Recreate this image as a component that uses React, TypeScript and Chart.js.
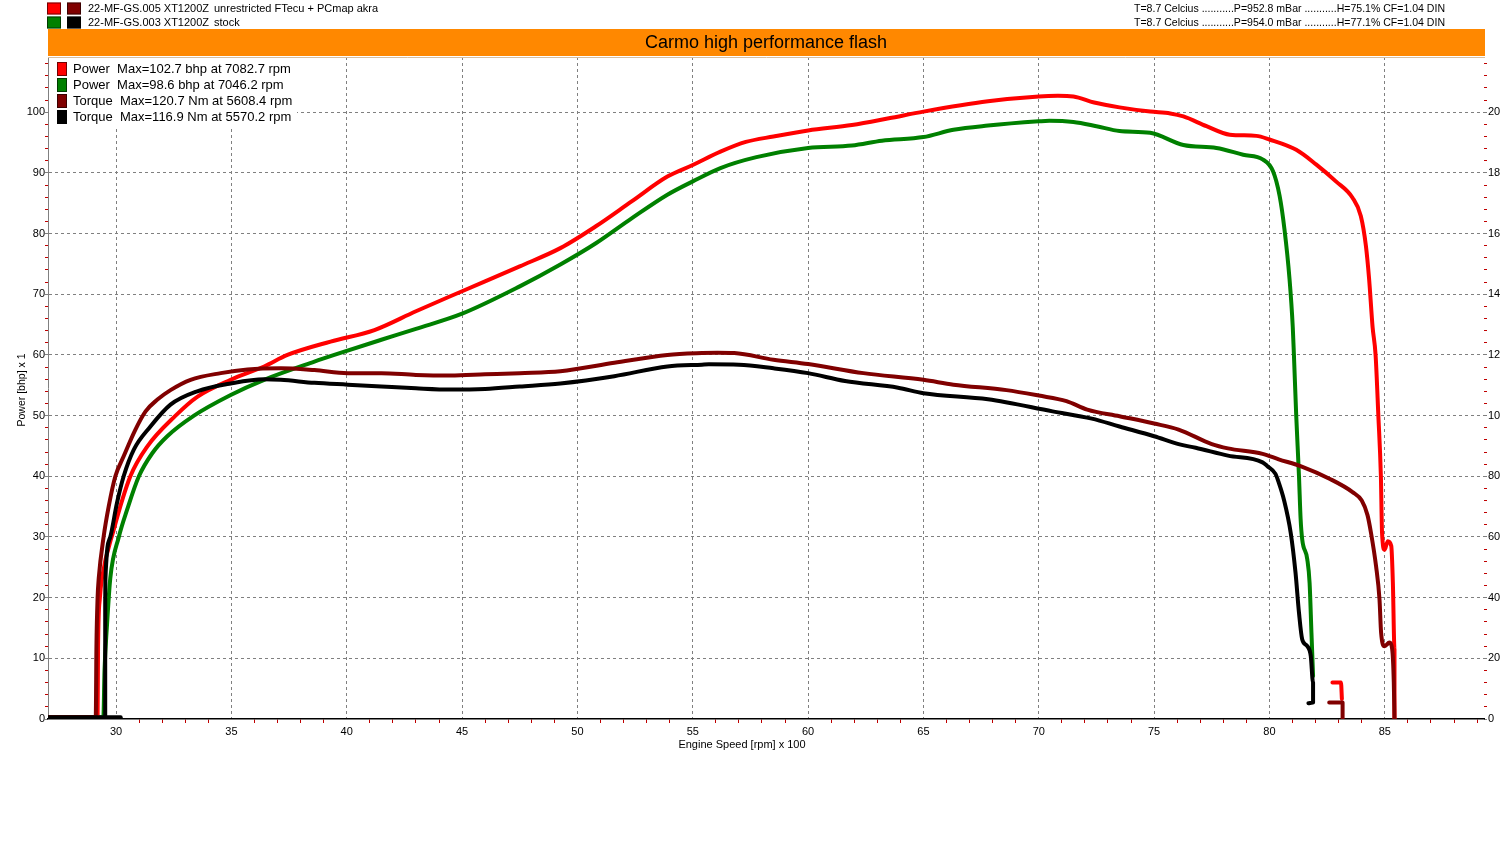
import React, { useEffect, useRef } from 'react';
import { Chart, registerables } from 'chart.js';

Chart.register(...registerables);

// engine speed is rpm / 100, power in bhp on the left axis, torque in Nm on the right axis
const runNames = ['22-MF-GS.005 XT1200Z', '22-MF-GS.003 XT1200Z'];
const runNotes = ['unrestricted FTecu + PCmap akra', 'stock'];
const runConditions = [
  'T=8.7 Celcius ...........P=952.8 mBar ...........H=75.1% CF=1.04 DIN',
  'T=8.7 Celcius ...........P=954.0 mBar ...........H=77.1% CF=1.04 DIN',
];
const chartTitle = 'Carmo high performance flash';
const legendLabels = [
  'Power  Max=102.7 bhp at 7082.7 rpm',
  'Power  Max=98.6 bhp at 7046.2 rpm',
  'Torque  Max=120.7 Nm at 5608.4 rpm',
  'Torque  Max=116.9 Nm at 5570.2 rpm',
];
const xTitle = 'Engine Speed [rpm] x 100';
const yTitle = 'Power [bhp] x 1';

// unrestricted run - power
const unrPowerRpm = [27.05, 29.2, 29.22, 29.3, 29.39, 29.9, 30.62, 31.35, 32.58, 33.52, 34.97, 36.42, 37.43, 39.3, 41.2, 43, 45, 47.5, 49.26, 50.8, 52.35, 53.9, 55, 56.2, 57.3, 58.5, 60, 61.9, 63.5, 65, 67.8, 70, 70.83, 71.5, 72.4, 73.5, 74.83, 75.7, 76.27, 77.27, 78.28, 79.43, 80, 81.16, 82.02, 82.88, 83.6, 83.96, 84.18, 84.32, 84.47, 84.6, 84.72, 84.83, 84.88, 84.99, 85.13, 85.28, 85.35, 85.42, 85.42];
const unrPower = [0.3, 0.3, 12, 20, 23.2, 31.2, 40, 44.9, 50, 53.1, 55.9, 58.1, 60, 62.2, 64.1, 67.2, 70.5, 74.6, 77.6, 81.2, 85.3, 89.4, 91.3, 93.5, 95.1, 96, 97, 97.9, 99, 100.1, 101.8, 102.6, 102.7, 102.6, 101.6, 100.8, 100.1, 99.8, 99.3, 97.7, 96.3, 96.1, 95.5, 93.8, 91.4, 88.6, 85.9, 82.9, 78, 72.5, 64.6, 60, 50, 40, 30.7, 27.9, 29.3, 28.5, 22.4, 11.5, 0];
// detached trace left after the run-down
const unrPowerTailRpm = [82.73, 83.1, 83.14];
const unrPowerTail = [6, 6, 3.3];

// stock run - power
const stkPowerRpm = [27.05, 29.45, 29.5, 29.6, 29.75, 30.12, 30.48, 30.99, 31.57, 32.22, 33.38, 34.97, 36.42, 38.6, 39.46, 41.5, 43, 45, 47.5, 49.26, 50.8, 52.35, 53.9, 55, 56.2, 57.76, 60, 61.9, 63.2, 65, 66.3, 67.8, 70, 70.46, 71.5, 72.5, 73.5, 74.83, 76.27, 77.7, 78.86, 79.72, 80.15, 80.44, 80.65, 80.87, 81.01, 81.06, 81.16, 81.28, 81.35, 81.42, 81.64, 81.74, 81.82, 81.89];
const stkPower = [0.3, 0.3, 8, 15, 23.2, 30, 34.5, 40, 43.8, 46.6, 50, 53.4, 55.9, 58.9, 60, 62.5, 64.3, 66.8, 71.3, 74.9, 78.4, 82.5, 86.4, 88.6, 90.8, 92.6, 94.1, 94.5, 95.3, 95.9, 97.1, 97.8, 98.5, 98.6, 98.4, 97.7, 96.9, 96.6, 94.6, 94.1, 93, 92.2, 90.3, 86.2, 80.7, 72.5, 64.6, 60, 50, 40, 33, 29.6, 26.3, 22.4, 14.2, 7.1];

// unrestricted run - torque
const unrTorqueRpm = [27.05, 29.12, 29.15, 29.2, 29.25, 29.46, 29.68, 29.97, 30.33, 30.84, 31.28, 31.78, 32.36, 33.23, 34.54, 35.7, 37.14, 38.6, 40.04, 41.5, 43, 44.5, 46, 47.5, 49.26, 51.6, 53.9, 55.4, 56.08, 56.8, 58.5, 60, 62.4, 65, 66.3, 68.6, 70, 71.2, 72.1, 73.5, 75, 76.06, 77.5, 78.2, 79.7, 80.4, 81.4, 82.6, 83.6, 84.0, 84.25, 84.4, 84.62, 84.77, 84.84, 84.99, 85.2, 85.32, 85.39, 85.42];
const unrTorque = [0.6, 0.6, 24, 40, 46.4, 60, 70, 80, 86.6, 95.4, 101.4, 105.2, 108.4, 111.8, 114, 115.2, 115.6, 115, 114, 114, 113.4, 113.2, 113.6, 114, 114.6, 117.4, 120, 120.6, 120.7, 120.6, 118.4, 117, 114, 111.8, 110.2, 108.4, 106.6, 104.8, 102, 99.8, 97.4, 95.4, 90.6, 89.2, 87.4, 85.6, 83.2, 79.2, 74.8, 72, 67.2, 61.4, 50.4, 39.4, 28.4, 24, 25.2, 23, 12, 0];
const unrTorqueTailRpm = [82.59, 83.17, 83.17];
const unrTorqueTail = [5.4, 5.4, 0];

// stock run - torque
const stkTorqueRpm = [27.05, 29.53, 29.53, 29.53, 29.54, 29.75, 30.04, 30.33, 30.77, 31.49, 32.36, 33.52, 34.97, 36.42, 37.14, 38.6, 40.04, 41.5, 43, 44.5, 46, 47.5, 49.26, 51.6, 53.9, 55.4, 55.7, 57, 58.5, 60, 61.6, 63.9, 65, 67.8, 70.6, 72.3, 73.5, 75, 76.06, 76.8, 78.2, 79.7, 79.9, 80.26, 80.4, 80.63, 80.92, 81.13, 81.28, 81.42, 81.64, 81.79, 81.89, 81.89, 81.69];
const stkTorque = [0.6, 0.6, 24, 40, 46.4, 60, 71.2, 80, 88.8, 96.4, 103.6, 108, 110.6, 112, 111.8, 110.8, 110.2, 109.6, 109, 108.6, 108.8, 109.6, 110.6, 113, 116.2, 116.8, 116.9, 116.8, 115.6, 114, 111.4, 109.2, 107.4, 105.4, 101.4, 99, 96.4, 93.2, 90.6, 89.4, 86.8, 84.6, 83.4, 80.8, 78, 72.2, 61.4, 48.2, 35, 26.2, 24, 20.8, 12, 5.4, 5.2];
const stkTorqueTailRpm = [29.53, 30.2];
const stkTorqueTail = [0.6, 0.6];

// tick positions (x every 100 rpm, power every 2 bhp, torque every 4 Nm)
const xTickValues = Array.from({ length: 60 }, (_, i) => 30 + i);
const powerTickValues = Array.from({ length: 55 }, (_, i) => i * 2);
const torqueTickValues = Array.from({ length: 55 }, (_, i) => i * 4);

const RED = '#ff0000';
const DARK_RED = '#800000';
const GREEN = '#008000';
const BLACK = '#000000';
const TICK_RED = '#c00000';
const GRID = '#808080';
const FONT = 'Liberation Sans, Arial, sans-serif';

const powerColors = [RED, GREEN];
const torqueColors = [DARK_RED, BLACK];
const legendColors = [RED, GREEN, DARK_RED, BLACK];

const toPoints = (xs: number[], ys: number[]) => xs.map((x, i) => ({ x, y: ys[i] }));

const swatch = (ctx: CanvasRenderingContext2D, x: number, y: number, w: number, h: number, color: string) => {
  ctx.fillStyle = color;
  ctx.fillRect(x, y, w, h);
  ctx.strokeStyle = 'rgba(0,0,0,0.55)';
  ctx.lineWidth = 1;
  ctx.strokeRect(x + 0.5, y + 0.5, w - 1, h - 1);
};

const dynoDecor = {
  id: 'dynoDecor',
  beforeDraw(chart: any) {
    const { ctx, width, height } = chart;
    ctx.save();
    ctx.fillStyle = '#ffffff';
    ctx.fillRect(0, 0, width, height);
    ctx.restore();
  },
  afterDraw(chart: any) {
    const ctx: CanvasRenderingContext2D = chart.ctx;
    const { left, right, top } = chart.chartArea;
    ctx.save();
    ctx.textBaseline = 'middle';

    // run header rows
    ctx.font = `11px ${FONT}`;
    runNames.forEach((name, i) => {
      const y = 8.5 + i * 14;
      swatch(ctx, 47, y - 6, 14, 12, powerColors[i]);
      swatch(ctx, 67, y - 6, 14, 12, torqueColors[i]);
      ctx.fillStyle = '#000';
      ctx.textAlign = 'left';
      ctx.fillText(name, 88, y);
      ctx.fillText(runNotes[i], 214, y);
      const txt = runConditions[i];
      const w = ctx.measureText(txt).width;
      ctx.save();
      ctx.translate(1134, y);
      ctx.scale(311 / w, 1);
      ctx.fillText(txt, 0, 0);
      ctx.restore();
    });

    // orange title band
    ctx.fillStyle = '#ff8800';
    ctx.fillRect(left, 29, right - left + 1, 27);
    ctx.strokeStyle = '#d8bfa0';
    ctx.lineWidth = 1;
    ctx.beginPath();
    ctx.moveTo(left, top + 0.5);
    ctx.lineTo(right + 1, top + 0.5);
    ctx.stroke();
    ctx.fillStyle = '#000';
    ctx.textAlign = 'center';
    ctx.font = `18px ${FONT}`;
    ctx.fillText(chartTitle, (left + right) / 2, 43);

    // legend box inside the plot
    ctx.fillStyle = '#ffffff';
    ctx.fillRect(left + 1, top + 1, 248, 68);
    ctx.font = `13px ${FONT}`;
    ctx.textAlign = 'left';
    legendLabels.forEach((label, i) => {
      const y = 69 + i * 16;
      swatch(ctx, 57, y - 7, 10, 14, legendColors[i]);
      ctx.fillStyle = '#000';
      ctx.fillText(label, 73, y);
    });

    // axis titles
    ctx.font = `11px ${FONT}`;
    ctx.textAlign = 'center';
    ctx.fillText(xTitle, 742, 745);
    ctx.save();
    ctx.translate(22, 390);
    ctx.rotate(-Math.PI / 2);
    ctx.font = `10.5px ${FONT}`;
    ctx.fillText(yTitle, 0, 0);
    ctx.restore();

    ctx.restore();
  },
};

const tickFont = { family: FONT, size: 11 };

const App: React.FC = () => {
  const canvasRef = useRef<HTMLCanvasElement>(null);
  const chartRef = useRef<Chart | null>(null);

  useEffect(() => {
    if (!canvasRef.current) return;
    if (chartRef.current) chartRef.current.destroy();

    const lineStyle = {
      borderWidth: 4,
      pointRadius: 0,
      cubicInterpolationMode: 'monotone' as const,
      borderJoinStyle: 'round' as const,
      borderCapStyle: 'round' as const,
    };

    chartRef.current = new Chart(canvasRef.current, {
      type: 'line',
      data: {
        datasets: [
          { label: 'Torque stock', data: toPoints(stkTorqueRpm, stkTorque), borderColor: BLACK, yAxisID: 'y1', ...lineStyle },
          { label: 'Torque stock tail', data: toPoints(stkTorqueTailRpm, stkTorqueTail), borderColor: BLACK, yAxisID: 'y1', ...lineStyle },
          { label: 'Torque unrestricted', data: toPoints(unrTorqueRpm, unrTorque), borderColor: DARK_RED, yAxisID: 'y1', ...lineStyle },
          { label: 'Torque unrestricted tail', data: toPoints(unrTorqueTailRpm, unrTorqueTail), borderColor: DARK_RED, yAxisID: 'y1', ...lineStyle },
          { label: 'Power unrestricted', data: toPoints(unrPowerRpm, unrPower), borderColor: RED, yAxisID: 'y', ...lineStyle },
          { label: 'Power unrestricted tail', data: toPoints(unrPowerTailRpm, unrPowerTail), borderColor: RED, yAxisID: 'y', ...lineStyle },
          { label: 'Power stock', data: toPoints(stkPowerRpm, stkPower), borderColor: GREEN, yAxisID: 'y', ...lineStyle },
        ],
      },
      options: {
        animation: false,
        responsive: false,
        devicePixelRatio: 1,
        layout: { padding: { top: 57, left: 0, right: 0, bottom: 0 } },
        plugins: {
          legend: { display: false },
          title: { display: false },
          tooltip: { enabled: false },
        },
        scales: {
          x: {
            type: 'linear',
            min: 27.05,
            max: 89.3,
            afterBuildTicks: (scale: any) => {
              scale.ticks = xTickValues.map((v) => ({ value: v }));
            },
            afterFit: (scale: any) => {
              scale.height = 131;
            },
            ticks: {
              autoSkip: false,
              maxRotation: 0,
              padding: 2,
              color: '#000',
              font: tickFont,
              callback: (v: any) => (Number(v) % 5 === 0 ? String(v) : ''),
            },
            grid: {
              color: (c: any) => (c.tick && c.tick.value % 5 === 0 ? GRID : 'rgba(0,0,0,0)'),
              tickColor: (c: any) => (c.tick && c.tick.value % 5 === 0 ? 'rgba(0,0,0,0)' : TICK_RED),
              tickLength: 4,
              tickBorderDash: [],
              lineWidth: 1,
            },
            border: { display: true, color: '#000', width: 1.5, dash: [3, 3] },
          },
          y: {
            type: 'linear',
            position: 'left',
            min: 0,
            max: 109.1,
            afterBuildTicks: (scale: any) => {
              scale.ticks = powerTickValues.map((v) => ({ value: v }));
            },
            afterFit: (scale: any) => {
              scale.width = 48;
            },
            ticks: {
              autoSkip: false,
              padding: 0,
              color: '#000',
              font: tickFont,
              callback: (v: any) => (Number(v) % 10 === 0 ? String(v) : ''),
            },
            grid: {
              color: (c: any) => (c.tick && c.tick.value % 10 === 0 && c.tick.value > 0 ? GRID : 'rgba(0,0,0,0)'),
              tickColor: (c: any) => (c.tick && c.tick.value % 10 === 0 ? GRID : TICK_RED),
              tickLength: 3,
              tickBorderDash: [],
              lineWidth: 1,
            },
            border: { display: true, color: GRID, width: 1, dash: [3, 3] },
          },
          y1: {
            type: 'linear',
            position: 'right',
            min: 0,
            max: 218.2,
            afterBuildTicks: (scale: any) => {
              scale.ticks = torqueTickValues.map((v) => ({ value: v }));
            },
            afterFit: (scale: any) => {
              scale.width = 16;
            },
            ticks: {
              autoSkip: false,
              padding: 1,
              color: '#000',
              font: tickFont,
              callback: (v: any) => (Number(v) % 20 === 0 ? String(v) : ''),
            },
            grid: {
              drawOnChartArea: false,
              tickColor: (c: any) => (c.tick && c.tick.value % 20 === 0 ? GRID : TICK_RED),
              tickLength: 3,
              tickBorderDash: [],
            },
            border: { display: false },
          },
        },
      } as any,
      plugins: [dynoDecor],
    });

    return () => {
      if (chartRef.current) {
        chartRef.current.destroy();
        chartRef.current = null;
      }
    };
  }, []);

  return (
    <div style={{ position: 'fixed', left: 0, top: 0, width: 1500, height: 850, overflow: 'hidden', background: '#fff' }}>
      <canvas ref={canvasRef} width={1500} height={850} style={{ display: 'block', width: 1500, height: 850 }} />
    </div>
  );
};

export default App;
